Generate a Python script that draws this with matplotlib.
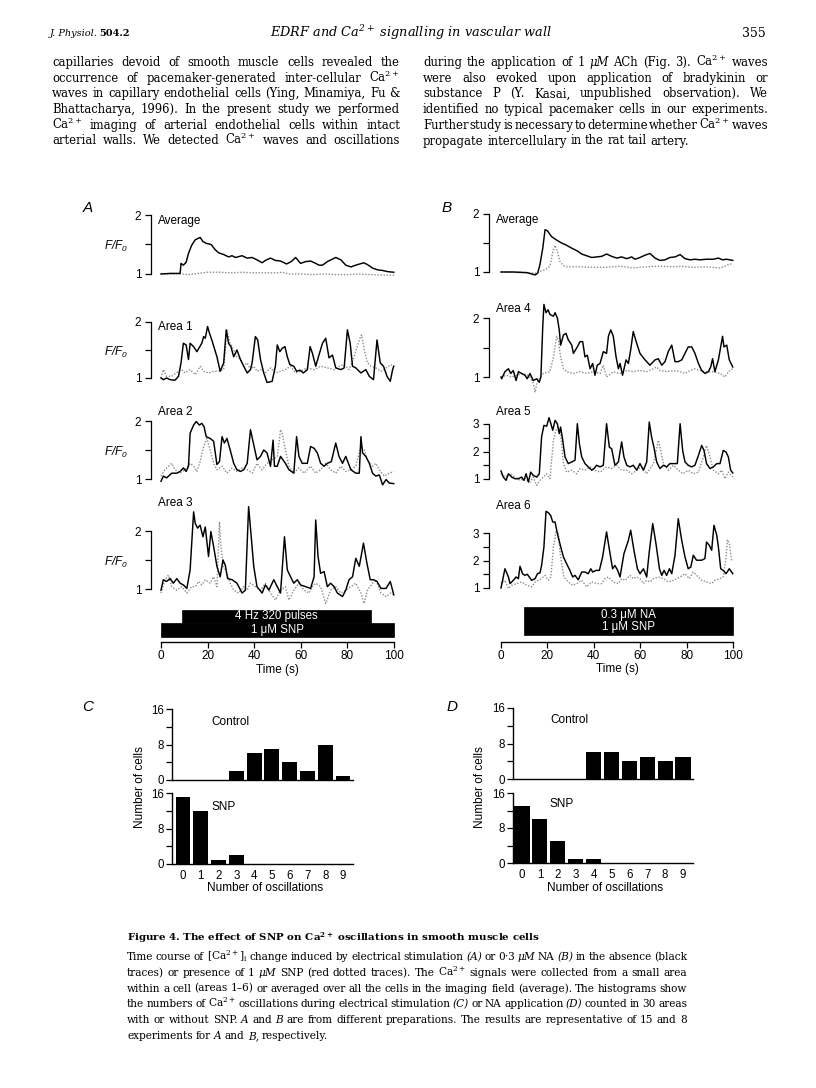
import matplotlib
matplotlib.use('Agg')
import matplotlib.pyplot as plt
from matplotlib.patches import Rectangle
import numpy as np

plt.rcParams['font.family'] = ['Liberation Sans', 'DejaVu Sans']

W, H = 816, 1088
fig = plt.figure(figsize=(W / 100, H / 100), dpi=100)
fig.patch.set_facecolor('white')
renderer = fig.canvas.get_renderer()

# ---------------------------------------------------------------- data
# Panel A (electrical stimulation)
A_avg_t = [0, 4, 8.2, 8.6, 9.6, 10.8, 11.8, 13.2, 14.7, 16.8, 18.0, 19.4, 21.5, 23.3, 24.7, 26.9, 29.0, 30.5,
           31.9, 34.8, 36.9, 39.1, 41.2, 43.4, 44.8, 47.0, 49.1, 51.3, 53.9, 55.9, 57.8, 59.9, 62.1, 64.2, 66.4,
           67.8, 69.3, 71.4, 75.0, 77.2, 79.3, 81.5, 83.6, 87.0, 88.6, 90.8, 93.0, 95.1, 97.3, 99.9]
A_avg_v = [1.0, 1.01, 1.01, 1.18, 1.15, 1.20, 1.35, 1.49, 1.58, 1.62, 1.55, 1.52, 1.50, 1.41, 1.36, 1.33, 1.29,
           1.31, 1.28, 1.31, 1.27, 1.28, 1.24, 1.19, 1.23, 1.27, 1.23, 1.22, 1.17, 1.21, 1.28, 1.18, 1.21, 1.22,
           1.18, 1.15, 1.15, 1.21, 1.28, 1.24, 1.15, 1.12, 1.15, 1.19, 1.16, 1.10, 1.07, 1.06, 1.04, 1.03]
A_avg_snp_t = [0, 8, 12, 16, 20, 25, 30, 35, 40, 45, 50, 52, 55, 60, 65, 70, 75, 80, 85, 90, 95, 100]
A_avg_snp_v = [1.0, 1.0, 0.99, 1.01, 1.03, 1.03, 1.02, 1.03, 1.02, 1.02, 1.02, 1.03, 1.0, 1.0, 0.99, 1.0, 0.99,
               0.99, 1.0, 0.99, 0.98, 0.98]

A1_t = [0, 1.0, 2.4, 3.9, 6.0, 7.5, 8.6, 9.6, 10.8, 11.8, 12.5, 14.0, 15.4, 17.5, 18.3, 19.0, 20.0, 20.8, 21.8,
        22.9, 24.0, 25.4, 26.9, 28.0, 29.0, 30.0, 31.2, 32.6, 34.1, 35.5, 37.0, 38.4, 39.1, 40.5, 41.5, 42.7,
        44.1, 45.5, 47.7, 49.1, 49.9, 51.0, 52.0, 53.2, 54.2, 55.3, 57.0, 58.2, 59.6, 61.1, 62.8, 64.0, 65.0,
        66.4, 67.8, 69.3, 70.7, 72.1, 73.6, 75.0, 77.2, 78.6, 80.0, 81.2, 82.2, 83.6, 85.8, 87.9, 89.4, 91.2,
        92.7, 94.1, 95.5, 97.0, 98.4, 99.4, 99.9]
A1_v = [1.0, 0.97, 1.0, 0.97, 0.96, 1.03, 1.27, 1.62, 1.59, 1.33, 1.62, 1.56, 1.47, 1.62, 1.74, 1.71, 1.92, 1.80,
        1.68, 1.53, 1.38, 1.12, 1.27, 1.86, 1.62, 1.56, 1.38, 1.50, 1.33, 1.21, 1.09, 1.15, 1.27, 1.74, 1.68,
        1.33, 1.09, 0.92, 0.94, 1.21, 1.59, 1.47, 1.53, 1.56, 1.38, 1.24, 1.21, 1.12, 1.14, 1.09, 1.15, 1.56,
        1.44, 1.21, 1.41, 1.62, 1.71, 1.36, 1.41, 1.18, 1.15, 1.18, 1.86, 1.62, 1.21, 1.18, 1.09, 1.15, 1.03,
        0.97, 1.68, 1.27, 1.21, 1.03, 0.94, 1.15, 1.21]
A1_snp_t = [0, 1.0, 2.4, 4.6, 7.5, 8.9, 10.3, 12.5, 14.7, 16.8, 18.3, 20.4, 22.6, 24.7, 26.9, 28.3, 29.0, 29.7,
            31.2, 32.6, 34.1, 35.5, 37.0, 38.4, 39.8, 41.2, 42.7, 44.8, 47.0, 49.1, 51.3, 53.4, 55.6, 57.8, 59.9,
            62.8, 65.7, 68.5, 71.4, 74.3, 76.4, 78.6, 80.7, 82.9, 85.1, 86.1, 87.2, 88.6, 90.1, 92.2, 94.4, 96.6,
            98.7, 99.9]
A1_snp_v = [1.0, 1.15, 1.03, 1.03, 1.12, 1.15, 1.09, 1.15, 1.06, 1.21, 1.12, 1.09, 1.12, 1.12, 1.15, 1.86, 1.74,
            1.62, 1.50, 1.38, 1.33, 1.21, 1.27, 1.15, 1.21, 1.12, 1.15, 1.09, 1.18, 1.09, 1.12, 1.15, 1.21, 1.09,
            1.12, 1.18, 1.15, 1.21, 1.18, 1.15, 1.21, 1.24, 1.15, 1.38, 1.68, 1.77, 1.50, 1.27, 1.21, 1.18, 1.12,
            1.18, 1.24, 1.21]

A2_t = [0, 1.0, 2.4, 4.6, 6.8, 8.2, 9.6, 10.8, 11.8, 12.5, 14.0, 15.1, 16.5, 17.5, 18.5, 19.4, 21.1, 22.6, 24.0,
        25.1, 26.2, 27.2, 28.3, 29.7, 31.2, 32.6, 34.1, 35.5, 37.0, 38.4, 39.8, 41.2, 42.7, 44.1, 45.5, 47.0,
        48.1, 48.7, 49.9, 51.3, 53.4, 54.9, 57.0, 58.2, 59.2, 60.6, 62.8, 64.2, 65.7, 67.1, 68.5, 70.0, 71.4,
        73.1, 75.0, 76.4, 77.9, 79.3, 81.5, 83.6, 85.1, 85.8, 86.5, 87.9, 89.4, 90.8, 92.2, 93.7, 95.1, 96.6,
        98.0, 99.9]
A2_v = [0.96, 1.05, 1.02, 1.10, 1.10, 1.13, 1.19, 1.13, 1.22, 1.79, 1.93, 1.99, 1.93, 1.96, 1.90, 1.73, 1.70,
        1.65, 1.25, 1.30, 1.73, 1.62, 1.70, 1.50, 1.27, 1.16, 1.13, 1.16, 1.27, 1.85, 1.59, 1.33, 1.39, 1.50,
        1.45, 1.22, 1.67, 1.22, 1.22, 1.39, 1.27, 1.16, 1.10, 1.73, 1.39, 1.27, 1.27, 1.56, 1.53, 1.45, 1.27,
        1.22, 1.27, 1.30, 1.62, 1.39, 1.27, 1.39, 1.16, 1.10, 1.10, 1.73, 1.45, 1.39, 1.27, 1.10, 1.05, 1.07,
        0.90, 0.99, 0.93, 0.92]
A2_snp_t = [0, 1.7, 4.6, 6.0, 8.2, 10.3, 12.5, 14.0, 15.4, 16.8, 18.3, 19.7, 21.1, 22.6, 24.0, 26.2, 28.3, 30.5,
            32.6, 34.8, 37.0, 39.1, 41.2, 43.4, 45.5, 47.7, 49.9, 51.3, 52.0, 53.4, 54.9, 57.0, 59.2, 61.4, 64.2,
            66.4, 68.5, 70.7, 72.8, 75.0, 77.2, 79.3, 81.5, 83.6, 85.8, 87.2, 88.6, 90.8, 92.2, 93.7, 95.8, 98.0,
            99.9]
A2_snp_v = [1.05, 1.16, 1.27, 1.16, 1.10, 1.16, 1.27, 1.22, 1.13, 1.30, 1.56, 1.70, 1.50, 1.27, 1.16, 1.22,
            1.10, 1.19, 1.13, 1.19, 1.16, 1.10, 1.27, 1.16, 1.27, 1.33, 1.39, 1.85, 1.79, 1.50, 1.22, 1.10, 1.19,
            1.10, 1.22, 1.10, 1.16, 1.27, 1.16, 1.10, 1.22, 1.13, 1.16, 1.22, 1.56, 1.50, 1.33, 1.22, 1.27, 1.16,
            1.05, 1.10, 1.13]

A3_t = [0, 1.0, 2.4, 3.9, 5.3, 6.8, 8.2, 9.6, 11.1, 12.5, 14.0, 14.7, 15.7, 16.8, 18.0, 19.0, 20.4, 21.4, 22.6,
        24.0, 25.4, 26.6, 27.6, 28.6, 30.5, 32.6, 34.8, 36.2, 37.6, 38.6, 39.8, 41.2, 43.4, 44.8, 46.3, 48.4,
        49.9, 51.3, 53.0, 54.2, 55.6, 57.0, 58.5, 59.9, 62.1, 64.2, 65.7, 66.4, 67.4, 68.5, 70.0, 71.4, 72.8,
        74.3, 75.7, 77.9, 79.3, 80.7, 82.2, 83.6, 85.1, 86.9, 88.4, 89.8, 91.2, 92.7, 94.4, 96.6, 98.4, 99.9]
A3_v = [0.98, 1.16, 1.13, 1.18, 1.10, 1.18, 1.10, 1.07, 1.01, 1.33, 2.33, 2.13, 2.05, 2.10, 1.90, 2.07, 1.56,
        1.99, 1.73, 1.39, 1.21, 1.50, 1.41, 1.18, 1.16, 1.10, 0.93, 0.98, 2.42, 1.96, 1.39, 1.04, 0.93, 1.07,
        0.98, 1.16, 1.04, 0.93, 1.90, 1.33, 1.21, 1.10, 1.16, 1.07, 1.04, 1.01, 1.21, 2.19, 1.56, 1.27, 1.30,
        1.04, 1.10, 1.04, 0.93, 0.87, 0.98, 1.16, 1.21, 1.53, 1.39, 1.79, 1.44, 1.16, 1.16, 1.13, 1.01, 1.01,
        1.13, 0.90]
A3_snp_t = [0, 1.7, 3.2, 4.6, 6.8, 8.9, 11.1, 13.2, 14.7, 16.1, 17.5, 19.0, 21.1, 22.6, 24.0, 25.1, 25.7, 26.9,
            28.3, 29.7, 31.2, 33.3, 35.5, 37.0, 38.4, 40.5, 42.7, 44.8, 47.0, 49.1, 51.3, 53.4, 54.9, 57.0, 59.2,
            61.4, 63.5, 65.0, 66.4, 68.5, 70.7, 72.8, 75.0, 77.2, 79.3, 81.5, 83.6, 85.8, 87.2, 88.6, 90.8, 92.2,
            94.4, 96.6, 98.7, 99.9]
A3_snp_v = [0.93, 1.16, 1.24, 1.04, 0.98, 1.04, 0.93, 1.04, 1.04, 1.13, 1.07, 1.16, 1.10, 1.21, 1.04, 2.16,
            1.73, 1.39, 1.27, 1.10, 0.98, 0.93, 1.04, 0.98, 1.10, 1.04, 0.98, 1.10, 0.93, 0.81, 0.98, 1.04, 0.81,
            0.98, 1.10, 0.98, 0.93, 1.04, 1.10, 1.04, 0.75, 0.98, 1.04, 0.93, 0.98, 1.04, 1.10, 0.93, 0.75, 0.98,
            1.10, 1.16, 0.93, 0.87, 0.93, 0.90]

# Panel B (noradrenaline)
B_avg_t = [0, 5.3, 11.1, 14.7, 15.8, 16.8, 18.0, 19.0, 20.0, 21.8, 24.0, 26.1, 28.3, 30.5, 32.6, 34.8, 36.9,
           39.1, 41.2, 43.4, 45.5, 47.7, 49.9, 52.0, 54.2, 56.3, 57.8, 59.9, 62.1, 64.2, 66.4, 68.5, 70.7, 72.8,
           75.0, 77.2, 79.3, 81.5, 83.6, 85.8, 88.6, 91.5, 93.7, 95.5, 97.3, 99.9]
B_avg_v = [1.0, 1.0, 0.99, 0.95, 0.98, 1.13, 1.41, 1.73, 1.71, 1.61, 1.55, 1.50, 1.46, 1.41, 1.37, 1.31, 1.28,
           1.25, 1.26, 1.27, 1.31, 1.27, 1.24, 1.26, 1.23, 1.26, 1.22, 1.25, 1.29, 1.32, 1.24, 1.20, 1.21, 1.25,
           1.26, 1.30, 1.23, 1.21, 1.22, 1.21, 1.22, 1.22, 1.24, 1.21, 1.22, 1.20]
B_avg_snp_t = [0, 15.4, 16.8, 19.0, 21.1, 22.6, 23.3, 24.3, 25.4, 26.9, 28.3, 34.1, 39.8, 45.5, 51.3, 57.0,
               62.8, 68.5, 74.3, 77.2, 82.9, 88.6, 94.4, 96.6, 98.7, 99.9]
B_avg_snp_v = [1.0, 0.98, 1.01, 1.04, 1.10, 1.39, 1.46, 1.36, 1.18, 1.11, 1.09, 1.09, 1.08, 1.08, 1.10, 1.07,
               1.09, 1.10, 1.09, 1.10, 1.08, 1.09, 1.07, 1.10, 1.14, 1.13]

B4_t = [0, 0.3, 1.7, 3.2, 4.2, 5.3, 6.5, 7.5, 8.9, 10.3, 11.3, 12.5, 13.9, 15.4, 16.5, 17.2, 18.0, 18.5, 19.4,
        20.3, 21.1, 22.6, 23.3, 24.3, 25.1, 25.7, 26.9, 28.0, 29.0, 30.5, 31.2, 32.6, 34.1, 35.2, 36.2, 37.2,
        38.4, 39.5, 40.5, 41.5, 42.7, 44.1, 45.5, 46.3, 47.3, 48.4, 49.6, 50.6, 51.3, 52.4, 53.9, 54.9, 55.9,
        57.0, 58.5, 59.9, 62.1, 64.2, 66.4, 67.8, 69.3, 70.7, 72.1, 73.6, 75.0, 76.4, 77.9, 79.3, 80.7, 82.2,
        83.6, 85.1, 86.5, 87.9, 89.4, 90.4, 91.2, 92.2, 93.7, 95.5, 96.1, 97.3, 98.4, 99.9]
B4_v = [1.0, 0.97, 1.09, 1.14, 1.06, 1.11, 0.94, 1.09, 1.06, 1.03, 0.97, 1.06, 0.94, 0.97, 0.91, 1.0, 1.86, 2.23,
        2.09, 2.14, 2.06, 2.03, 2.09, 2.0, 1.80, 1.54, 1.71, 1.74, 1.63, 1.54, 1.40, 1.49, 1.60, 1.60, 1.34, 1.37,
        1.14, 1.23, 1.03, 1.20, 1.23, 1.43, 1.40, 1.69, 1.80, 1.69, 1.34, 1.14, 1.23, 1.03, 1.29, 1.23, 1.46,
        1.77, 1.57, 1.40, 1.29, 1.20, 1.29, 1.31, 1.20, 1.26, 1.43, 1.54, 1.26, 1.26, 1.29, 1.40, 1.51, 1.51,
        1.40, 1.23, 1.11, 1.06, 1.09, 1.17, 1.31, 1.09, 1.29, 1.69, 1.51, 1.54, 1.29, 1.17]
B4_snp_t = [0, 2.4, 4.6, 6.8, 9.6, 12.5, 13.9, 14.7, 15.4, 16.8, 18.3, 21.1, 22.6, 24.0, 24.7, 25.7, 26.9, 28.3,
            31.2, 34.1, 36.9, 39.8, 42.7, 44.1, 45.5, 48.4, 51.3, 54.2, 57.0, 59.9, 62.8, 65.7, 67.1, 68.5, 71.4,
            74.3, 77.2, 79.3, 81.5, 83.6, 85.8, 88.6, 91.5, 94.4, 96.6, 98.0, 99.9]
B4_snp_v = [1.0, 1.03, 1.0, 1.03, 1.06, 1.0, 0.89, 0.74, 0.89, 1.0, 1.06, 1.09, 1.34, 1.69, 1.63, 1.34, 1.14,
            1.09, 1.06, 1.09, 1.06, 1.09, 1.06, 1.20, 1.0, 1.09, 1.06, 1.11, 1.09, 1.11, 1.09, 1.14, 1.17, 1.11,
            1.09, 1.11, 1.09, 1.06, 1.11, 1.14, 1.11, 1.09, 1.09, 1.06, 1.0, 1.09, 1.14]

B5_t = [0, 1.0, 2.2, 3.2, 4.6, 6.0, 7.5, 8.9, 9.9, 10.8, 11.8, 12.8, 13.9, 15.4, 16.5, 17.5, 18.5, 19.7, 20.7,
        21.5, 22.3, 23.3, 24.3, 25.1, 25.7, 26.6, 27.6, 29.0, 30.5, 31.9, 32.9, 33.8, 34.8, 36.2, 37.6, 39.1,
        40.1, 41.2, 42.7, 44.1, 45.5, 46.7, 47.7, 49.1, 50.6, 52.0, 53.0, 54.2, 55.6, 57.0, 58.5, 59.9, 61.4,
        62.8, 63.9, 64.9, 65.9, 67.1, 68.5, 70.0, 71.4, 72.8, 74.3, 76.0, 77.2, 78.3, 79.3, 80.7, 82.2, 83.6,
        85.1, 86.5, 87.5, 88.6, 90.1, 91.5, 93.0, 94.4, 95.8, 97.0, 98.0, 99.0, 99.9]
B5_v = [1.29, 1.07, 0.95, 1.19, 1.07, 1.01, 1.01, 1.07, 0.95, 1.19, 0.89, 1.25, 1.13, 1.07, 1.19, 2.53, 2.95,
        2.92, 3.23, 3.01, 2.77, 3.13, 3.01, 2.65, 2.89, 2.41, 1.80, 1.56, 1.62, 1.68, 3.01, 2.28, 1.80, 1.56,
        1.44, 1.32, 1.38, 1.50, 1.44, 1.50, 3.01, 2.16, 2.10, 1.50, 1.62, 2.35, 1.80, 1.50, 1.44, 1.50, 1.32,
        1.56, 1.32, 1.62, 3.07, 2.53, 2.16, 1.62, 1.38, 1.50, 1.44, 1.56, 1.56, 1.56, 3.01, 2.04, 1.62, 1.50,
        1.44, 1.50, 1.86, 2.22, 2.04, 1.56, 1.38, 1.44, 1.56, 1.56, 2.04, 1.98, 1.80, 1.32, 1.22]
B5_snp_t = [0, 1.7, 3.9, 6.0, 8.2, 10.3, 12.5, 13.9, 15.4, 16.8, 18.3, 19.7, 21.1, 22.6, 23.7, 24.7, 25.7, 26.9,
            28.3, 30.5, 32.6, 34.1, 36.2, 38.4, 40.5, 42.7, 45.5, 47.7, 49.9, 52.0, 54.2, 56.3, 58.5, 60.6, 62.8,
            65.7, 67.8, 68.8, 70.0, 72.1, 74.3, 76.4, 78.6, 80.7, 82.9, 85.1, 87.2, 88.6, 90.1, 91.5, 93.7, 95.1,
            96.6, 98.0, 99.9]
B5_snp_v = [1.19, 1.07, 1.19, 1.07, 0.95, 1.01, 0.89, 1.07, 0.77, 0.95, 1.07, 1.19, 1.01, 2.41, 2.77, 2.89,
            2.65, 1.56, 1.25, 1.32, 1.19, 1.38, 1.32, 1.44, 1.32, 1.25, 1.44, 1.38, 1.50, 1.32, 1.32, 1.19, 1.32,
            1.44, 1.19, 1.56, 2.41, 2.04, 1.56, 1.32, 1.50, 1.32, 1.19, 1.32, 1.19, 1.25, 1.80, 2.22, 1.80, 1.32,
            1.19, 1.32, 1.01, 1.25, 1.07]

B6_t = [0, 1.7, 3.2, 3.9, 5.3, 6.5, 7.5, 8.2, 9.3, 10.3, 11.3, 12.2, 13.2, 14.7, 15.7, 16.8, 17.5, 18.5, 19.4,
        20.4, 21.4, 22.3, 23.3, 24.3, 25.4, 26.9, 28.3, 29.7, 30.9, 31.9, 33.3, 34.8, 36.2, 37.6, 38.7, 39.5,
        40.9, 42.4, 43.8, 45.5, 47.0, 48.1, 49.1, 50.3, 51.3, 53.0, 54.9, 55.9, 57.3, 58.8, 59.9, 61.4, 62.8,
        63.9, 65.4, 66.8, 68.3, 69.3, 70.3, 71.4, 72.6, 73.6, 75.0, 76.4, 77.9, 79.3, 80.7, 81.8, 82.9, 84.3,
        86.5, 87.9, 88.6, 89.8, 90.8, 91.8, 93.0, 93.7, 94.7, 95.8, 97.0, 98.4, 99.9]
B6_v = [1.0, 1.70, 1.40, 1.16, 1.28, 1.40, 1.34, 1.79, 1.52, 1.46, 1.50, 1.40, 1.28, 1.34, 1.52, 1.55, 1.82,
        2.49, 3.79, 3.74, 3.64, 3.40, 3.40, 2.98, 2.61, 2.13, 1.88, 1.64, 1.40, 1.46, 1.30, 1.58, 1.58, 1.52,
        1.70, 1.58, 1.64, 1.64, 2.13, 3.04, 2.25, 1.70, 1.82, 1.64, 1.40, 2.25, 2.73, 3.10, 2.37, 1.70, 1.52,
        1.70, 1.40, 2.31, 3.34, 2.61, 1.70, 1.46, 1.64, 1.46, 1.70, 1.52, 2.19, 3.52, 2.73, 2.13, 1.70, 1.76,
        2.19, 2.01, 2.01, 2.07, 2.67, 2.55, 2.37, 3.28, 2.92, 2.49, 1.70, 1.64, 1.52, 1.70, 1.52]
B6_snp_t = [0, 1.7, 3.2, 4.6, 6.8, 8.9, 11.1, 13.2, 14.7, 16.1, 17.5, 19.0, 20.4, 21.5, 22.6, 23.7, 24.7, 25.7,
            27.1, 29.0, 30.9, 32.6, 34.8, 36.9, 39.1, 41.2, 43.4, 44.8, 46.3, 48.4, 50.6, 52.0, 53.5, 55.6, 57.0,
            58.5, 59.9, 61.4, 62.8, 64.2, 65.7, 67.8, 70.0, 72.1, 74.3, 77.2, 79.3, 81.2, 82.9, 84.3, 86.5, 88.6,
            90.8, 92.2, 94.4, 95.8, 97.0, 97.6, 98.4, 99.4, 99.9]
B6_snp_v = [1.16, 1.28, 0.98, 1.10, 1.16, 1.22, 1.10, 1.04, 1.22, 1.28, 1.34, 1.46, 1.28, 1.40, 2.49, 3.04, 2.98,
            2.13, 1.40, 1.22, 1.10, 1.16, 1.28, 1.04, 1.22, 1.16, 1.16, 1.34, 1.40, 1.22, 1.16, 1.34, 1.28, 1.46,
            1.34, 1.40, 1.34, 1.16, 1.28, 1.22, 1.34, 1.40, 1.34, 1.22, 1.28, 1.40, 1.52, 1.34, 1.58, 1.46, 1.28,
            1.22, 1.16, 1.28, 1.34, 1.40, 2.13, 2.76, 2.61, 2.01, 2.01]

# Stimulus protocols (start s, end s, label)
A_stim_top = (9, 90, '4 Hz 320 pulses')
A_stim_bottom = (0, 100, '1 μM SNP')
B_stim = (10, 100, '0.3 μM NA\n1 μM SNP')

# Histograms (number of cells vs number of oscillations)
osc_bins = list(range(10))
C_control = [0, 0, 0, 2, 6, 7, 4, 2, 8, 1]
C_snp = [15, 12, 1, 2, 0, 0, 0, 0, 0, 0]
D_control = [0, 0, 0, 0, 6, 6, 4, 5, 4, 5]
D_snp = [13, 10, 5, 1, 1, 0, 0, 0, 0, 0]

time_ticks = [0, 20, 40, 60, 80, 100]

# ---------------------------------------------------------------- helpers
def fx(x):
    return x / W


def fy(y):
    return 1 - y / H


def add_ax(left, top, right, bottom):
    ax = fig.add_axes([fx(left), fy(bottom), (right - left) / W, (bottom - top) / H])
    ax.patch.set_visible(False)
    return ax


def ftext(x, y, s, **kw):
    return fig.text(fx(x), fy(y), s, **kw)


SANS = ['Liberation Sans', 'DejaVu Sans']
SERIF = ['DejaVu Serif']


def trace_panel(spine_px, x0_px, x100_px, y1_px, unit_px, ymax, sol_t, sol_v, dot_t, dot_v):
    ppu = (x100_px - x0_px) / 100.0
    top = y1_px - (ymax - 1) * unit_px - 2
    bottom = y1_px + 0.3 * unit_px
    ax = add_ax(spine_px, top, x100_px + 2, bottom)
    ax.set_xlim((spine_px - x0_px) / ppu, 100 + 2 / ppu)
    ax.set_ylim(1 - (bottom - y1_px) / unit_px, 1 + (y1_px - top) / unit_px)
    ax.plot(dot_t, dot_v, color='#8c8c8c', lw=1.0, ls=(0, (1, 1.2)), clip_on=False)
    ax.plot(sol_t, sol_v, color='black', lw=1.05, clip_on=False)
    for s in ['top', 'right', 'bottom']:
        ax.spines[s].set_visible(False)
    ax.spines['left'].set_bounds(1, ymax)
    ax.spines['left'].set_linewidth(0.9)
    ticks = np.arange(1, ymax + 0.01, 0.5)
    ax.set_yticks(ticks)
    ax.set_yticklabels([str(int(t)) if float(t).is_integer() else '' for t in ticks])
    ax.tick_params(axis='y', direction='out', length=4, width=0.9, labelsize=8.5, pad=3)
    ax.set_xticks([])
    return ax


def time_axis(x0_px, x100_px, axis_px, top_px, bars):
    ax = add_ax(x0_px, top_px, x100_px, axis_px)
    ax.set_xlim(0, 100)
    ax.set_ylim(0, axis_px - top_px)
    for s in ['top', 'right', 'left']:
        ax.spines[s].set_visible(False)
    ax.spines['bottom'].set_linewidth(1.0)
    ax.set_xticks(time_ticks)
    ax.set_xticklabels([str(t) for t in time_ticks])
    ax.set_yticks([])
    ax.tick_params(axis='x', direction='out', length=4, width=0.9, labelsize=8.5, pad=2)
    for (t0, t1, label), (ylo, yhi) in bars:
        ax.add_patch(Rectangle((t0, ylo), t1 - t0, yhi - ylo, facecolor='black',
                               edgecolor='black', lw=0.5, clip_on=False))
        xc = (t0 + t1) / 2 if t0 > 0 else 50
        ax.text(xc, (ylo + yhi) / 2, label, color='white',
                ha='center', va='center', fontsize=8.3, linespacing=1.1)
    return ax


def hist_ax(left_px, c0_px, c9_px, right_px, top_px, bottom_px, counts, show_x):
    ppu = (c9_px - c0_px) / 9.0
    ax = add_ax(left_px, top_px, right_px, bottom_px)
    ax.set_xlim((left_px - c0_px) / ppu, 9 + (right_px - c9_px) / ppu)
    ax.set_ylim(0, 16)
    ax.bar(osc_bins, counts, width=0.84, color='black', edgecolor='none')
    for s in ['top', 'right']:
        ax.spines[s].set_visible(False)
    for s in ['left', 'bottom']:
        ax.spines[s].set_linewidth(1.0)
    ax.set_yticks([0, 4, 8, 12, 16])
    ax.set_yticklabels(['0', '', '8', '', '16'])
    ax.tick_params(axis='y', direction='out', length=4, width=0.9, labelsize=8.3, pad=2)
    if show_x:
        ax.set_xticks(osc_bins)
        ax.set_xticklabels([str(b) for b in osc_bins])
        ax.tick_params(axis='x', length=0, labelsize=8.3, pad=4)
    else:
        ax.set_xticks([])
    return ax


def justify(line, x0, x1, y, size, family=SERIF, do_justify=True, weight='normal'):
    toks = line.split(' ')
    texts, widths = [], []
    for tok in toks:
        style = 'normal'
        if tok.startswith('~'):
            tok = tok[1:]
            style = 'italic'
        t = ftext(x0, y, tok, fontsize=size, family=family, style=style, weight=weight,
                  va='baseline', ha='left')
        widths.append(t.get_window_extent(renderer).width)
        texts.append(t)
    space = size * 100 / 72 * 0.3
    if do_justify and len(toks) > 1:
        space = max(1.0, (x1 - x0 - sum(widths)) / (len(toks) - 1))
    x = x0
    for t, w in zip(texts, widths):
        t.set_x(fx(x))
        x += w + space


CA = r'$\mathdefault{Ca^{2+}}$'

# ---------------------------------------------------------------- header & body text
ftext(50, 36, 'J. Physiol.', fontsize=7, family=SERIF, style='italic', va='baseline')
ftext(99, 36, '504.2', fontsize=7, family=SERIF, weight='bold', va='baseline')
ftext(411, 37, 'EDRF and ' + CA + ' signalling in vascular wall', fontsize=9.3, family=SERIF,
      style='italic', ha='center', va='baseline')
ftext(766, 37, '355', fontsize=9, family=SERIF, ha='right', va='baseline')

left_lines = [
    'capillaries devoid of smooth muscle cells revealed the',
    'occurrence of pacemaker-generated inter-cellular ' + CA,
    'waves in capillary endothelial cells (Ying, Minamiya, Fu &',
    'Bhattacharya, 1996). In the present study we performed',
    CA + ' imaging of arterial endothelial cells within intact',
    'arterial walls. We detected ' + CA + ' waves and oscillations',
]
right_lines = [
    'during the application of 1 ~μM ACh (Fig. 3). ' + CA + ' waves',
    'were also evoked upon application of bradykinin or',
    'substance P (Y. Kasai, unpublished observation). We',
    'identified no typical pacemaker cells in our experiments.',
    'Further study is necessary to determine whether ' + CA + ' waves',
    'propagate intercellulary in the rat tail artery.',
]
for i, ln in enumerate(left_lines):
    justify(ln, 52, 400, 66 + i * 15.7, 8.4)
for i, ln in enumerate(right_lines):
    justify(ln, 423, 768, 66 + i * 15.7, 8.4, do_justify=(i < len(right_lines) - 1))

# ---------------------------------------------------------------- panels A and B
ftext(88, 208, 'A', fontsize=11, style='italic', ha='center', va='center', family=SANS)
ftext(447, 208, 'B', fontsize=11, style='italic', ha='center', va='center', family=SANS)

A_spine, A_x0, A_x100 = 151, 161, 394
B_spine, B_x0, B_x100 = 489, 501, 733

A_specs = [
    ('Average', 274, 59, A_avg_t, A_avg_v, A_avg_snp_t, A_avg_snp_v, 221),
    ('Area 1', 378, 56, A1_t, A1_v, A1_snp_t, A1_snp_v, 327),
    ('Area 2', 479, 58, A2_t, A2_v, A2_snp_t, A2_snp_v, 412),
    ('Area 3', 589, 58, A3_t, A3_v, A3_snp_t, A3_snp_v, 503),
]
for name, y1, unit, st, sv, dt, dv, ly in A_specs:
    trace_panel(A_spine, A_x0, A_x100, y1, unit, 2, st, sv, dt, dv)
    ftext(158, ly, name, fontsize=8.5, ha='left', va='center', family=SANS)
    ftext(116, y1 - unit / 2 + 2, r'$\mathdefault{F/F_0}$', fontsize=8.5, style='italic', ha='center',
          va='center', family=SANS)

B_specs = [
    ('Average', 272, 58, 2, B_avg_t, B_avg_v, B_avg_snp_t, B_avg_snp_v, 220),
    ('Area 4', 377, 59, 2, B4_t, B4_v, B4_snp_t, B4_snp_v, 309),
    ('Area 5', 479, 27.5, 3, B5_t, B5_v, B5_snp_t, B5_snp_v, 412),
    ('Area 6', 588, 27.5, 3, B6_t, B6_v, B6_snp_t, B6_snp_v, 506),
]
for name, y1, unit, ymax, st, sv, dt, dv, ly in B_specs:
    trace_panel(B_spine, B_x0, B_x100, y1, unit, ymax, st, sv, dt, dv)
    ftext(496, ly, name, fontsize=8.5, ha='left', va='center', family=SANS)

# bar extents given in pixels above the time axis
time_axis(A_x0, A_x100, 642, 600, [(A_stim_top, (19, 32)), (A_stim_bottom, (5, 19))])
time_axis(B_x0, B_x100, 642, 600, [(B_stim, (7, 35))])
ftext((A_x0 + A_x100) / 2, 670, 'Time (s)', fontsize=8.5, ha='center', va='center', family=SANS)
ftext((B_x0 + B_x100) / 2, 669, 'Time (s)', fontsize=8.5, ha='center', va='center', family=SANS)

# ---------------------------------------------------------------- panels C and D
ftext(88, 707, 'C', fontsize=11, style='italic', ha='center', va='center', family=SANS)
ftext(452, 707, 'D', fontsize=11, style='italic', ha='center', va='center', family=SANS)

hist_ax(172, 183, 343, 353, 709, 780, C_control, False)
hist_ax(172, 183, 343, 353, 793, 864, C_snp, True)
hist_ax(513, 522, 683, 693, 708, 779, D_control, False)
hist_ax(513, 522, 683, 693, 793, 863, D_snp, True)

for x, yc, ys, xl, xc in [(211, 722, 807, 140, 265), (550, 720, 804, 480, 605)]:
    ftext(x, yc, 'Control', fontsize=8.5, ha='left', va='center', family=SANS)
    ftext(x, ys, 'SNP', fontsize=8.5, ha='left', va='center', family=SANS)
    ftext(xl, 787, 'Number of cells', fontsize=8.5, rotation=90, ha='center', va='center', family=SANS)
    ftext(xc, 888, 'Number of oscillations', fontsize=8.5, ha='center', va='center', family=SANS)

# ---------------------------------------------------------------- caption
cap_title = 'Figure 4. The effect of SNP on ' + CA + ' oscillations in smooth muscle cells'
ftext(127, 941, cap_title, fontsize=7.4, family=SERIF, weight='bold', va='baseline')
cap_lines = [
    r'Time course of $\mathdefault{[Ca^{2+}]_i}$ change induced by electrical stimulation ~(A) or 0·3 ~μM NA ~(B) in the absence (black',
    'traces) or presence of 1 ~μM SNP (red dotted traces). The ' + CA + ' signals were collected from a small area',
    'within a cell (areas 1–6) or averaged over all the cells in the imaging field (average). The histograms show',
    'the numbers of ' + CA + ' oscillations during electrical stimulation ~(C) or NA application ~(D) counted in 30 areas',
    'with or without SNP. ~A and ~B are from different preparations. The results are representative of 15 and 8',
    'experiments for ~A and ~B, respectively.',
]
for i, ln in enumerate(cap_lines):
    justify(ln, 127, 687, 960 + i * 15.8, 7.6, do_justify=(i < len(cap_lines) - 1))

fig.savefig('out.png', dpi=100, facecolor='white')
